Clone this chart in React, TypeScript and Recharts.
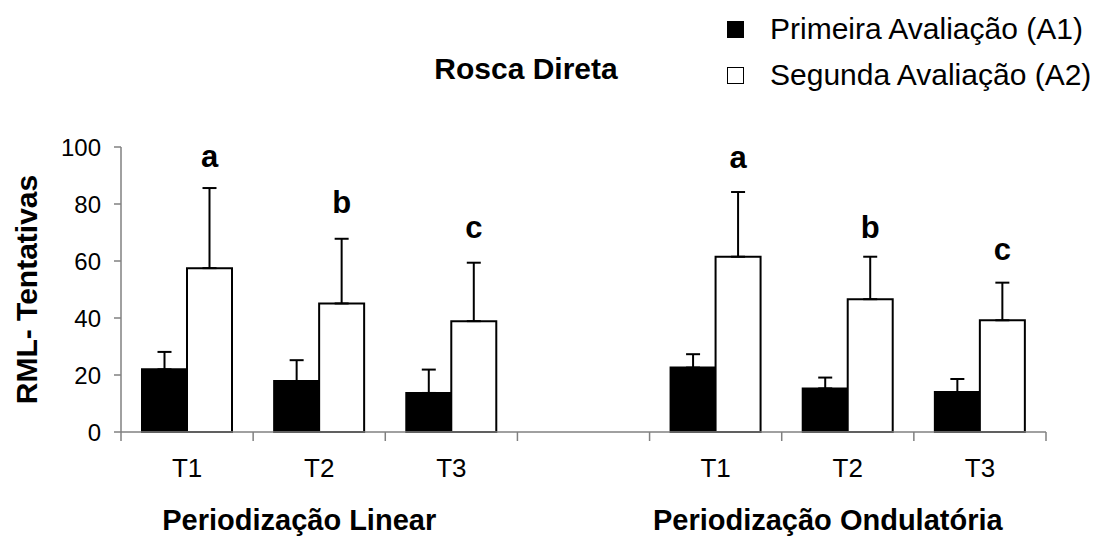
import React from "react";
import { ComposedChart, Bar, ErrorBar, Scatter, XAxis, YAxis } from "recharts";

const categories = ["T1", "T2", "T3", "", "T1", "T2", "T3"];
const groupLabels = ["", "Periodização Linear", "", "", "", "Periodização Ondulatória", ""];
const a1 = [22, 17.9, 13.7, null, 22.6, 15.3, 14];
const a1Err = [6.1, 7.3, 8.2, null, 4.7, 3.8, 4.6];
const a2 = [57.5, 45.1, 38.9, null, 61.5, 46.6, 39.2];
const a2Err = [28.1, 22.7, 20.5, null, 22.7, 14.9, 13.2];
const letters = ["a", "b", "c", "", "a", "b", "c"];
const letterY = [93.1, 76.9, 68.1, null, 92.7, 68.1, 60.5];
const yTicks = [0, 20, 40, 60, 80, 100];

const FONT = "Arial, 'Liberation Sans', sans-serif";
const W = 1112;
const H = 537;
const LEFT = 121;
const RIGHT = 66;
const BAR = 45;
const BAND = (W - LEFT - RIGHT) / categories.length;

const data = categories.map((c, i) => ({
  cat: c,
  group: groupLabels[i],
  a1: a1[i],
  a1e: a1Err[i] == null ? null : [0, a1Err[i]],
  a2: a2[i],
  a2e: a2Err[i] == null ? null : [0, a2Err[i]],
  letter: letters[i],
  letterY: letterY[i],
}));

// ticks sit on the category borders, label in the middle, group title under T2
function CatTick(props: any) {
  const { x, y, payload, index } = props;
  const i = payload?.index ?? index;
  const left = x - BAND / 2;
  return (
    <g>
      <line x1={left} y1={y} x2={left} y2={y + 9} stroke="#808080" strokeWidth={1.5} />
      {i === categories.length - 1 && (
        <line x1={x + BAND / 2} y1={y} x2={x + BAND / 2} y2={y + 9} stroke="#808080" strokeWidth={1.5} />
      )}
      <text x={x} y={y + 45} textAnchor="middle" fontSize={26} fontFamily={FONT} fill="#000">
        {payload.value}
      </text>
      {groupLabels[i] && (
        <text x={x - 20} y={y + 98} textAnchor="middle" fontSize={29} fontWeight="bold" fontFamily={FONT} fill="#000">
          {groupLabels[i]}
        </text>
      )}
    </g>
  );
}

function LetterShape(props: any) {
  const { cx, cy, payload } = props;
  if (!payload.letter) return null;
  return (
    <text x={cx + BAR / 2} y={cy} textAnchor="middle" fontSize={31} fontWeight="bold" fontFamily={FONT} fill="#000">
      {payload.letter}
    </text>
  );
}

export default function App() {
  return (
    <div style={{ position: "absolute", left: 0, top: 0, width: W, height: H, background: "#fff", fontFamily: FONT }}>
      <ComposedChart
        width={W}
        height={H}
        data={data}
        margin={{ top: 147, right: RIGHT, left: 0, bottom: 0 }}
        barGap={0}
        barSize={BAR}
      >
        <XAxis
          dataKey="cat"
          height={105}
          axisLine={{ stroke: "#808080", strokeWidth: 1.5 }}
          tickLine={false}
          tickSize={0}
          tickMargin={0}
          interval={0}
          tick={<CatTick />}
        />
        <YAxis
          width={LEFT}
          domain={[0, 100]}
          ticks={yTicks}
          interval={0}
          axisLine={{ stroke: "#808080", strokeWidth: 1.5 }}
          tickLine={{ stroke: "#808080", strokeWidth: 1.5 }}
          tickSize={7}
          tickMargin={13}
          tick={{ fontSize: 24, fontFamily: FONT, fill: "#000" }}
          label={{
            value: "RML- Tentativas",
            angle: -90,
            position: "insideLeft",
            offset: 26,
            style: { fontSize: 30, fontWeight: "bold", fontFamily: FONT, fill: "#000", textAnchor: "middle" },
          }}
        />
        <Bar dataKey="a1" fill="#000" stroke="#000" strokeWidth={2} isAnimationActive={false}>
          <ErrorBar dataKey="a1e" width={7} stroke="#000" strokeWidth={2} direction="y" />
        </Bar>
        <Bar dataKey="a2" fill="#fff" stroke="#000" strokeWidth={2} isAnimationActive={false}>
          <ErrorBar dataKey="a2e" width={7} stroke="#000" strokeWidth={2} direction="y" />
        </Bar>
        <Scatter dataKey="letterY" shape={<LetterShape />} isAnimationActive={false} legendType="none" />
      </ComposedChart>

      <div
        style={{
          position: "absolute",
          left: 526,
          top: 52,
          transform: "translateX(-50%)",
          fontSize: 30,
          fontWeight: "bold",
          lineHeight: "34px",
          whiteSpace: "nowrap",
        }}
      >
        Rosca Direta
      </div>

      <div style={{ position: "absolute", left: 727, top: 12, fontSize: 30, lineHeight: "34px", whiteSpace: "nowrap" }}>
        <div style={{ display: "flex", alignItems: "center", height: 34 }}>
          <span style={{ display: "inline-block", width: 17, height: 17, background: "#000", marginRight: 26 }} />
          Primeira Avaliação (A1)
        </div>
        <div style={{ display: "flex", alignItems: "center", height: 34, marginTop: 12 }}>
          <span
            style={{
              display: "inline-block",
              width: 15,
              height: 15,
              border: "1px solid #000",
              background: "#fff",
              marginRight: 26,
            }}
          />
          Segunda Avaliação (A2)
        </div>
      </div>
    </div>
  );
}
